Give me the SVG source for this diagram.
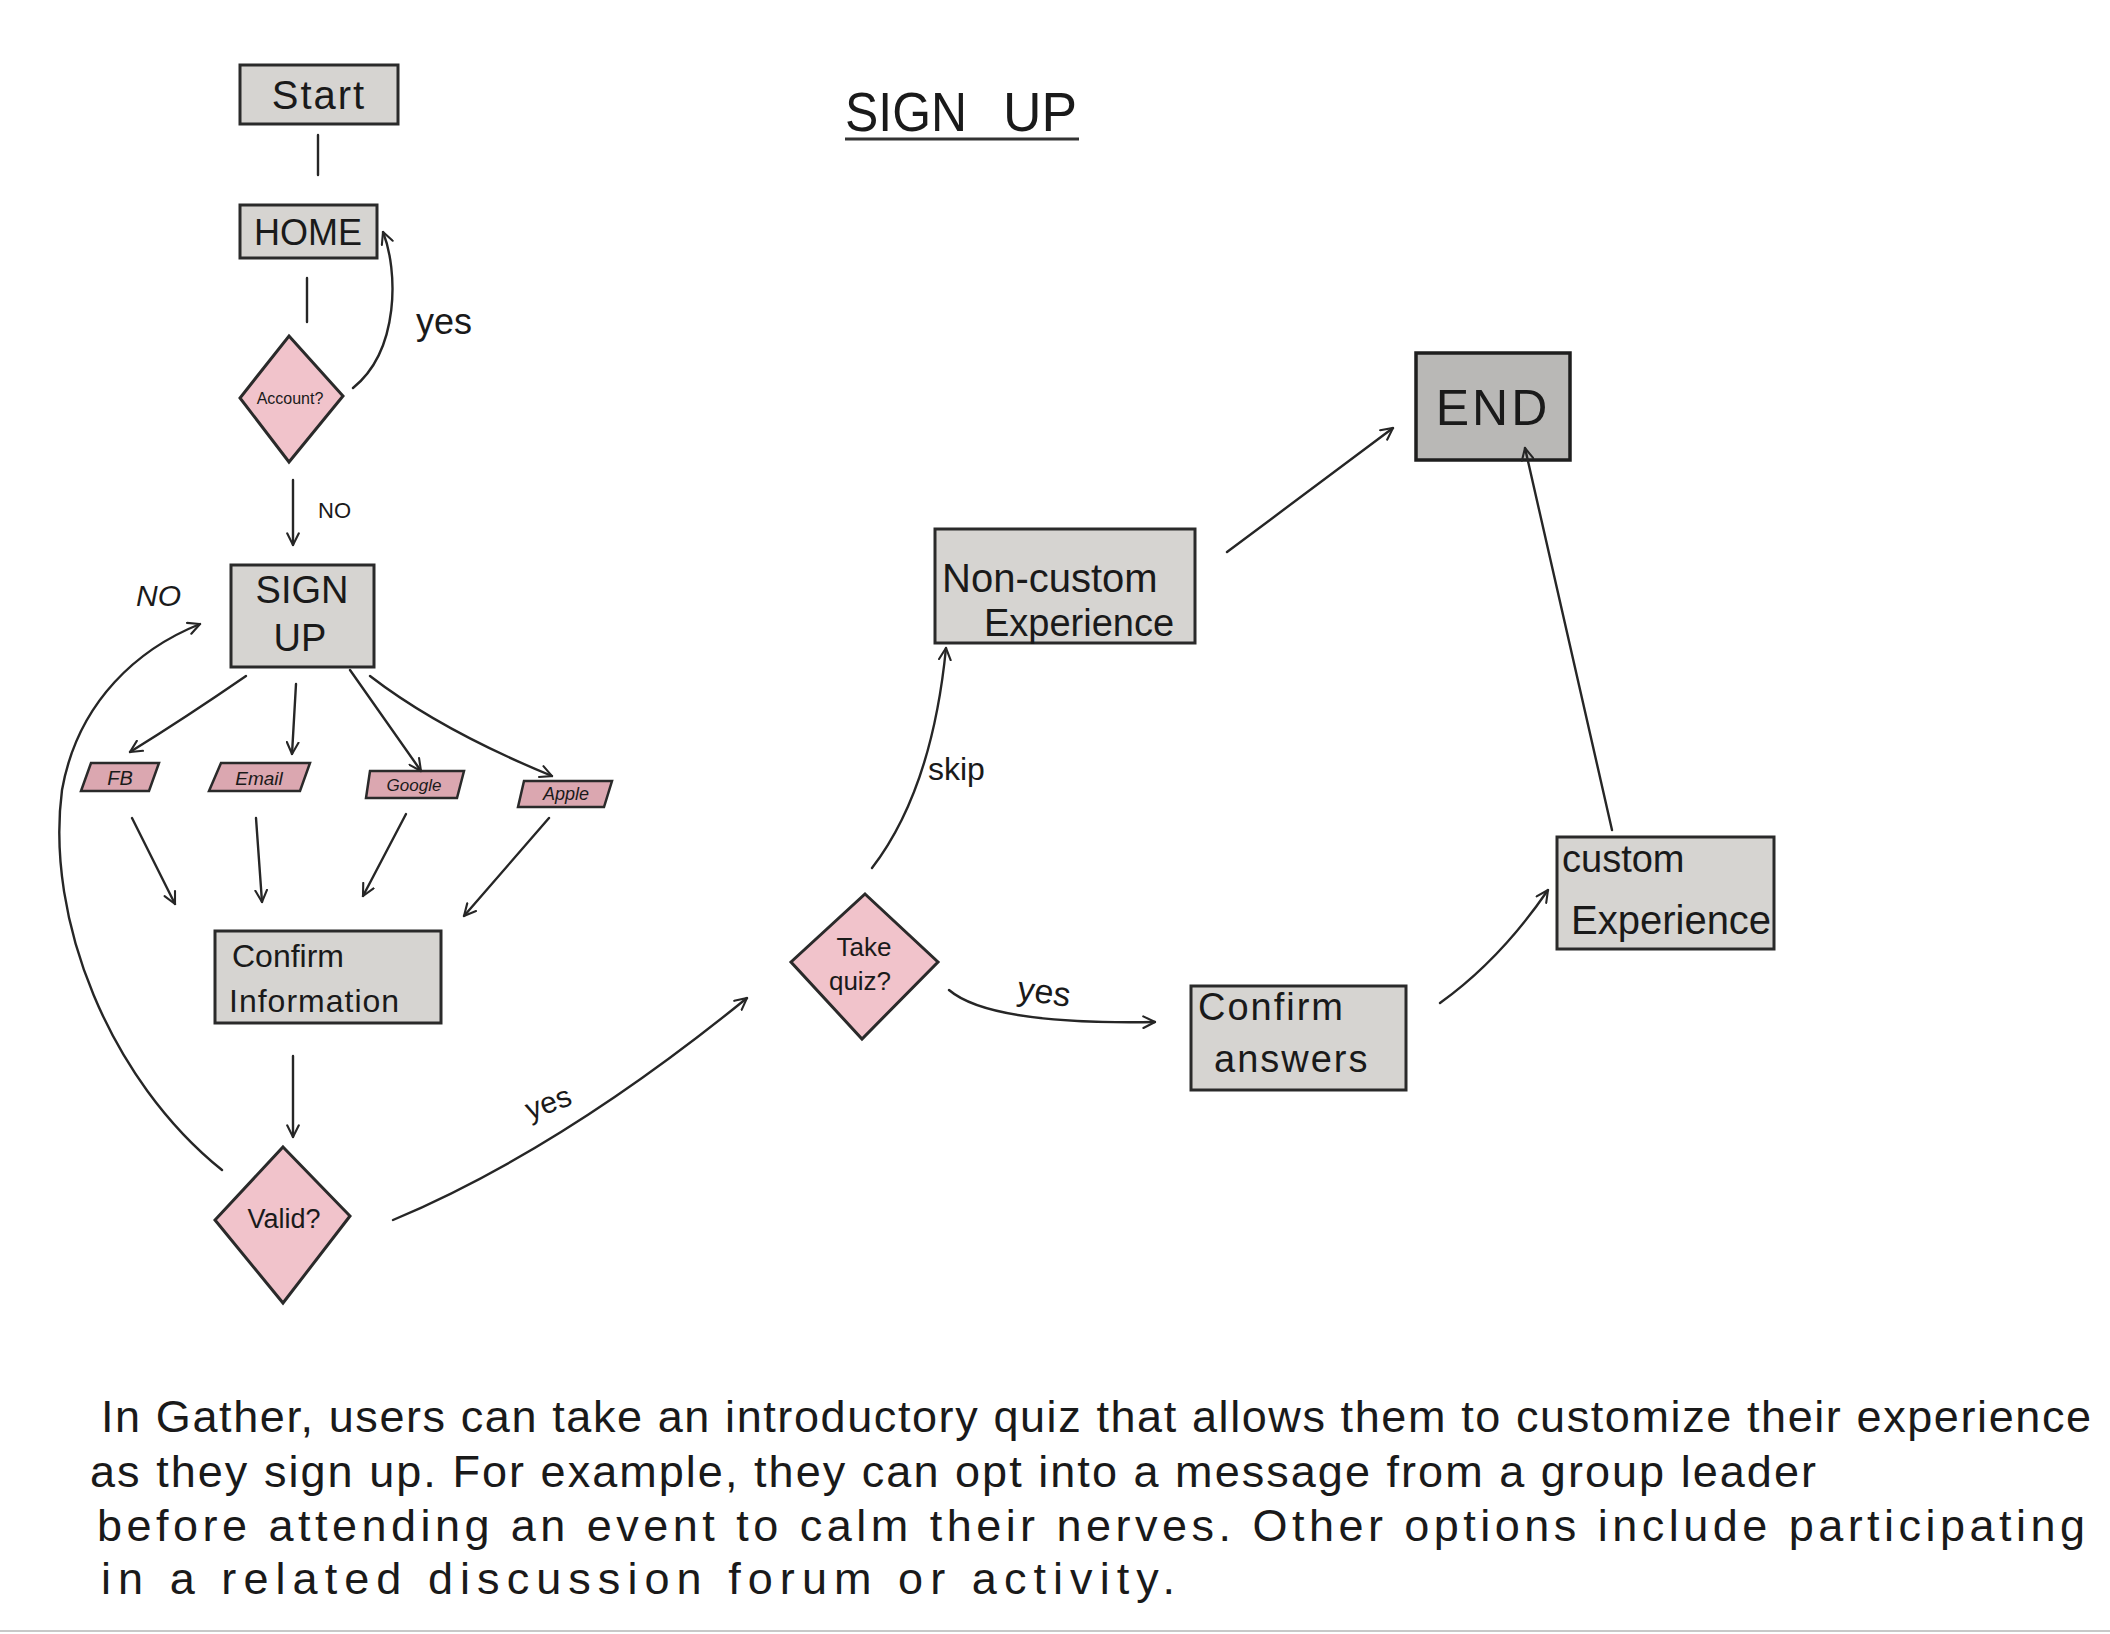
<svg xmlns="http://www.w3.org/2000/svg" width="2110" height="1634" viewBox="0 0 2110 1634">
<defs>
<style>
.box{fill:#d6d4d1;stroke:#2a2a2a;stroke-width:3}
.endbox{fill:#b9b8b6;stroke:#1e1e1e;stroke-width:3.5}
.dia{fill:#f1c3cb;stroke:#2a2a2a;stroke-width:3}
.para{fill:#dba7b0;stroke:#2a2a2a;stroke-width:2.5}
.t{font-family:"Liberation Sans","DejaVu Sans",sans-serif;fill:#1a1a1a}
.c{text-anchor:middle}
.ln{fill:none;stroke:#262626;stroke-width:2.4;stroke-linecap:round}
</style>
<marker id="ah" viewBox="0 0 12 12" refX="11" refY="6" markerWidth="14" markerHeight="14" markerUnits="userSpaceOnUse" orient="auto">
<path d="M1,1 L11,6 L1,11" fill="none" stroke="#262626" stroke-width="1.8" stroke-linecap="round"/>
</marker>
</defs>
<rect width="2110" height="1634" fill="#ffffff"/>

<g id="title">
<text class="t" x="845" y="131" font-size="56" textLength="122" lengthAdjust="spacingAndGlyphs" font-weight="300">SIGN</text>
<text class="t" x="1003" y="131" font-size="56" textLength="74" lengthAdjust="spacingAndGlyphs" font-weight="300">UP</text>
<line x1="845" y1="139" x2="1079" y2="139" stroke="#333" stroke-width="3"/>
</g>

<g id="node-start">
<rect class="box" x="240" y="65" width="158" height="59"/>
<text class="t c" x="319" y="109" font-size="40" letter-spacing="2">Start</text>
</g>

<g id="node-home">
<rect class="box" x="240" y="205" width="137" height="53"/>
<text class="t c" x="308" y="245" font-size="36">HOME</text>
</g>

<g id="node-account">
<polygon class="dia" points="289,336 343,396 289,462 240,398"/>
<text class="t c" x="290" y="404" font-size="16">Account?</text>
</g>

<g id="node-signup">
<rect class="box" x="231" y="565" width="143" height="102"/>
<text class="t c" x="302" y="603" font-size="38">SIGN</text>
<text class="t c" x="300" y="651" font-size="38">UP</text>
</g>

<g id="node-fb">
<polygon class="para" points="91,763 159,763 149,791 81,791"/>
<text class="t c" x="120" y="785" font-size="20" font-style="italic">FB</text>
</g>

<g id="node-email">
<polygon class="para" points="221,763 310,763 300,791 209,791"/>
<text class="t c" x="259" y="785" font-size="19" font-style="italic">Email</text>
</g>

<g id="node-google">
<polygon class="para" points="370,771 464,771 457,798 366,798"/>
<text class="t c" x="414" y="791" font-size="17" font-style="italic">Google</text>
</g>

<g id="node-apple">
<polygon class="para" points="524,781 612,781 604,807 518,807"/>
<text class="t c" x="566" y="800" font-size="18" font-style="italic">Apple</text>
</g>

<g id="node-confirm-info">
<rect class="box" x="215" y="931" width="226" height="92"/>
<text class="t" x="232" y="967" font-size="32">Confirm</text>
<text class="t" x="229" y="1012" font-size="32" letter-spacing="1">Information</text>
</g>

<g id="node-valid">
<polygon class="dia" points="283,1147 350,1216 283,1303 215,1220"/>
<text class="t c" x="284" y="1228" font-size="27">Valid?</text>
</g>

<g id="node-takequiz">
<polygon class="dia" points="865,894 938,962 862,1039 791,962"/>
<text class="t c" x="864" y="956" font-size="26">Take</text>
<text class="t c" x="860" y="990" font-size="26">quiz?</text>
</g>

<g id="node-noncustom">
<rect class="box" x="935" y="529" width="260" height="114"/>
<text class="t" x="942" y="592" font-size="40">Non-custom</text>
<text class="t" x="984" y="636" font-size="38">Experience</text>
</g>

<g id="node-end">
<rect class="endbox" x="1416" y="353" width="154" height="107"/>
<text class="t c" x="1493" y="425" font-size="50" letter-spacing="3">END</text>
</g>

<g id="node-confirm-answers">
<rect class="box" x="1191" y="986" width="215" height="104"/>
<text class="t" x="1198" y="1020" font-size="38" letter-spacing="2">Confirm</text>
<text class="t" x="1214" y="1072" font-size="38" letter-spacing="2">answers</text>
</g>

<g id="node-custom">
<rect class="box" x="1557" y="837" width="217" height="112"/>
<text class="t" x="1562" y="872" font-size="38">custom</text>
<text class="t" x="1571" y="934" font-size="40">Experience</text>
</g>

<g id="connectors">
<path class="ln" d="M318,135 L318,175"/>
<path class="ln" d="M307,278 L307,322"/>
<path class="ln" d="M353,388 C400,350 398,270 383,232" marker-end="url(#ah)"/>
<path class="ln" d="M293,480 L293,545" marker-end="url(#ah)"/>
<path class="ln" d="M222,1170 C110,1080 45,920 62,790 C78,700 140,648 200,624" marker-end="url(#ah)"/>
<path class="ln" d="M246,676 Q185,718 130,752" marker-end="url(#ah)"/>
<path class="ln" d="M296,684 L292,754" marker-end="url(#ah)"/>
<path class="ln" d="M350,670 L421,771" marker-end="url(#ah)"/>
<path class="ln" d="M370,676 Q440,730 552,776" marker-end="url(#ah)"/>
<path class="ln" d="M132,818 L175,904" marker-end="url(#ah)"/>
<path class="ln" d="M256,818 L262,902" marker-end="url(#ah)"/>
<path class="ln" d="M406,814 L363,896" marker-end="url(#ah)"/>
<path class="ln" d="M549,818 L464,916" marker-end="url(#ah)"/>
<path class="ln" d="M293,1056 L293,1137" marker-end="url(#ah)"/>
<path class="ln" d="M393,1220 Q560,1150 747,998" marker-end="url(#ah)"/>
<path class="ln" d="M872,868 Q932,790 946,648" marker-end="url(#ah)"/>
<path class="ln" d="M1227,552 L1393,428" marker-end="url(#ah)"/>
<path class="ln" d="M949,990 Q990,1025 1155,1022" marker-end="url(#ah)"/>
<path class="ln" d="M1440,1003 Q1500,960 1548,890" marker-end="url(#ah)"/>
<path class="ln" d="M1612,830 L1525,448" marker-end="url(#ah)"/>
<text class="t" x="416" y="334" font-size="36">yes</text>
<text class="t" x="318" y="518" font-size="22">NO</text>
<text class="t" x="136" y="606" font-size="30" font-style="italic">NO</text>
<text class="t" x="524" y="1112" font-size="30" transform="rotate(-20 550 1100)">yes</text>
<text class="t" x="928" y="780" font-size="32">skip</text>
<text class="t" x="1018" y="1004" font-size="34" transform="rotate(8 1050 990)">yes</text>
</g>

<g id="description">
<text class="t" x="101" y="1432" font-size="45" textLength="1990" lengthAdjust="spacing">In Gather, users can take an introductory quiz that allows them to customize their experience</text>
<text class="t" x="90" y="1487" font-size="45" textLength="1726" lengthAdjust="spacing">as they sign up. For example, they can opt into a message from a group leader</text>
<text class="t" x="97" y="1541" font-size="45" textLength="1988" lengthAdjust="spacing">before attending an event to calm their nerves. Other options include participating</text>
<text class="t" x="101" y="1594" font-size="45" textLength="1074" lengthAdjust="spacing">in a related discussion forum or activity.</text>
</g>
<line x1="0" y1="1631" x2="2110" y2="1631" stroke="#c8c8c8" stroke-width="2"/>
</svg>
